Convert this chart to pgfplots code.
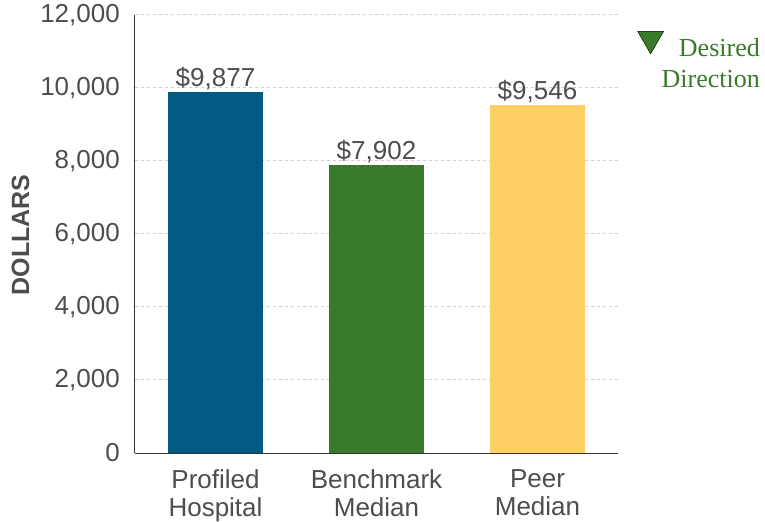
\documentclass[border=0pt]{standalone}
\usepackage{pgfplots}
\pgfplotsset{compat=1.18}
\usepackage{fontspec}
\setmainfont{Liberation Sans}
\newfontfamily\seriffont{Liberation Serif}
\definecolor{cblue}{HTML}{005A82}
\definecolor{cgreen}{HTML}{3A7B2B}
\definecolor{cyellow}{HTML}{FDD065}
\definecolor{ctext}{HTML}{4D4D4D}
\definecolor{cgrid}{HTML}{CFCFCF}
\definecolor{caxis}{HTML}{333333}
\begin{document}
\begin{tikzpicture}
\begin{axis}[
  name=ax,
  scale only axis,
  width=483bp, height=438bp,
  xmin=-0.5, xmax=2.5,
  ymin=0, ymax=12000,
  axis x line=bottom, axis y line=left,
  axis line style={-, caxis, line width=1bp},
  major tick length=0pt,
  xtick={0,1,2},
  xticklabels={{Profiled\\Hospital},{Benchmark\\Median},{Peer\\Median}},
  ytick={0,2000,4000,6000,8000,10000,12000},
  /pgf/number format/assume math mode=true,
  /pgf/number format/1000 sep={,},
  scaled y ticks=false,
  ymajorgrids,
  major grid style={cgrid, line width=1bp, dash pattern=on 3bp off 3bp},
  tick label style={font=\fontsize{26bp}{28bp}\selectfont, text=ctext},
  yticklabel style={inner sep=0pt, xshift=-15bp},
  xticklabel style={inner sep=0pt, align=center, yshift=-16bp},
  ylabel={DOLLARS},
  ylabel style={font=\fontsize{25bp}{28bp}\selectfont\bfseries, text=ctext,
    at={(axis description cs:-0.237,0.498)}, anchor=center, inner sep=0pt},
  nodes near coords={\$\pgfmathprintnumber{\pgfplotspointmeta}},
  nodes near coords style={font=\fontsize{26bp}{28bp}\selectfont, text=ctext,
    anchor=south, inner sep=0pt, yshift=2bp},
  legend style={draw=none, fill=none, inner sep=0pt,
    at={(axis description cs:1.294,0.963)}, anchor=north east,
    nodes={inner sep=0pt, align=right, font=\seriffont\fontsize{26bp}{31bp}\selectfont, text=cgreen},
    column sep=-2bp},
  legend cell align=right,
]
\addlegendimage{only marks, mark=triangle*, mark size=15bp,
  mark options={rotate=180, fill=cgreen, draw=none, yshift=-25bp}}
\addlegendentry{Desired\\Direction}
\addplot[ybar, bar width=95bp, fill=cblue, draw=none, forget plot] coordinates {(0,9877)};
\addplot[ybar, bar width=95bp, fill=cgreen, draw=none, forget plot] coordinates {(1,7902)};
\addplot[ybar, bar width=95bp, fill=cyellow, draw=none, forget plot] coordinates {(2,9546)};
\end{axis}
\pgfresetboundingbox
\path[use as bounding box] (ax.south west) ++(-135bp,-69bp) rectangle ++(765bp,522bp);
\end{tikzpicture}
\end{document}
